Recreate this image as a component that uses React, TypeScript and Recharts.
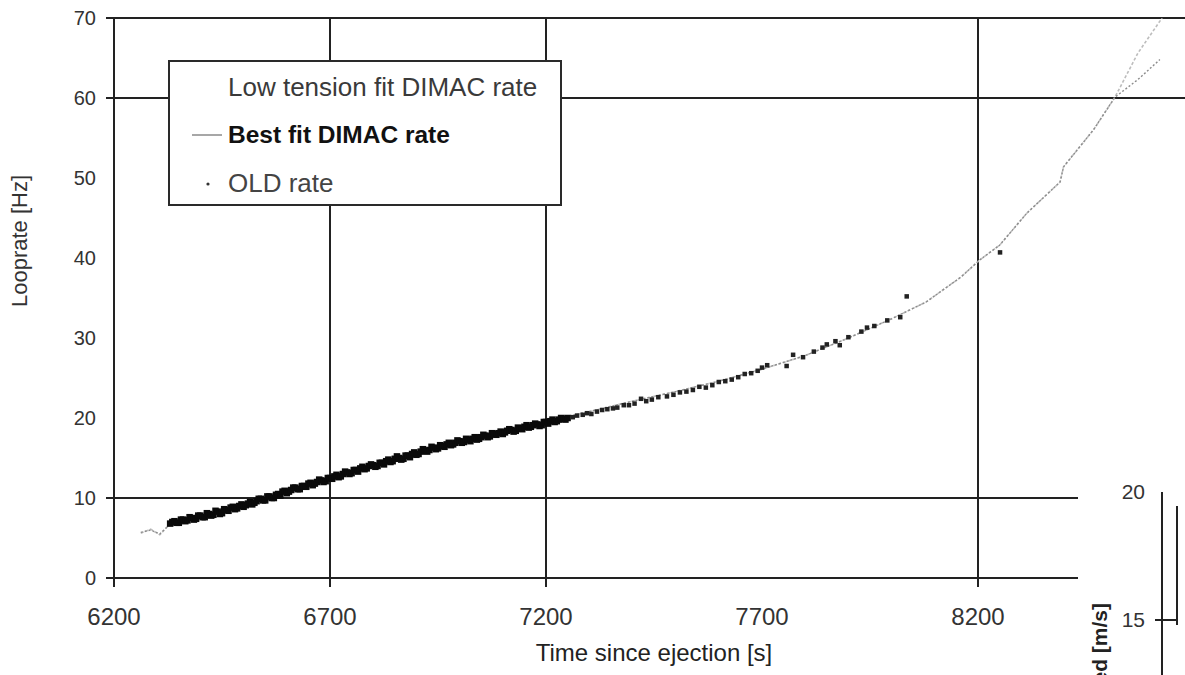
import React from 'react';
import {
  ComposedChart,
  LineChart,
  Line,
  Scatter,
  XAxis,
  YAxis,
  ReferenceLine,
  Legend,
  Label,
} from 'recharts';

const FONT = "'Liberation Sans', Arial, Helvetica, sans-serif";

// ---------- data ----------
const xTickValues = [6200, 6700, 7200, 7700, 8200];
const yTickValues = [0, 10, 20, 30, 40, 50, 60, 70];
const xTickMarks = [6200, 6700, 7200, 8200];
const yTickMarks = [0, 10, 60, 70];
const gridTimes = [6700, 7200, 8200];
const gridRates = [10, 60, 70];

const oldRateTimes = [
  6330, 6335, 6340, 6345, 6350, 6355, 6360, 6365, 6370, 6375, 6380, 6385, 6390, 6395, 6400, 6405,
  6410, 6415, 6420, 6425, 6430, 6435, 6440, 6445, 6450, 6455, 6460, 6465, 6470, 6475, 6480, 6485,
  6490, 6495, 6500, 6505, 6510, 6515, 6520, 6525, 6530, 6535, 6540, 6545, 6550, 6555, 6560, 6565,
  6570, 6575, 6580, 6585, 6590, 6595, 6600, 6605, 6610, 6615, 6620, 6625, 6630, 6635, 6640, 6645,
  6650, 6655, 6660, 6665, 6670, 6675, 6680, 6685, 6690, 6695, 6700, 6705, 6710, 6715, 6720, 6725,
  6730, 6735, 6740, 6745, 6750, 6755, 6760, 6765, 6770, 6775, 6780, 6785, 6790, 6795, 6800, 6805,
  6810, 6815, 6820, 6825, 6830, 6835, 6840, 6845, 6850, 6855, 6860, 6865, 6870, 6875, 6880, 6885,
  6890, 6895, 6900, 6905, 6910, 6915, 6920, 6925, 6930, 6935, 6940, 6945, 6950, 6955, 6960, 6965,
  6970, 6975, 6980, 6985, 6990, 6995, 7000, 7005, 7010, 7015, 7020, 7025, 7030, 7035, 7040, 7045,
  7050, 7055, 7060, 7065, 7070, 7075, 7080, 7085, 7090, 7095, 7100, 7105, 7110, 7115, 7120, 7125,
  7130, 7135, 7140, 7145, 7150, 7155, 7160, 7165, 7170, 7175, 7180, 7185, 7190, 7195, 7200, 7205,
  7210, 7215, 7220, 7225, 7230, 7235, 7240, 7245, 7250,
  7262, 7272, 7285, 7295, 7305, 7318, 7330, 7342, 7355, 7365, 7380, 7392, 7405, 7420, 7432, 7445,
  7460, 7480, 7495, 7510, 7525, 7540, 7555, 7570, 7585, 7600, 7615, 7630, 7645, 7660, 7675, 7690,
  7700, 7712, 7757, 7772, 7795, 7820, 7840, 7850, 7870, 7880, 7900, 7930, 7943, 7960, 7990, 8020,
  8035, 8251,
];
const oldRateHz = [
  6.8, 7.0, 7.1, 6.9, 6.9, 7.3, 7.3, 7.1, 7.2, 7.6, 7.5, 7.3, 7.4, 7.8, 7.8, 7.6,
  7.6, 8.1, 8.0, 7.8, 7.9, 8.4, 8.3, 8.0, 8.1, 8.6, 8.5, 8.4, 8.8, 8.9, 8.6, 8.7,
  9.0, 9.2, 8.9, 9.1, 9.3, 9.5, 9.2, 9.4, 9.6, 9.9, 9.9, 9.7, 9.7, 10.2, 10.2, 10.0,
  10.0, 10.4, 10.5, 10.3, 10.8, 10.9, 10.6, 10.8, 11.0, 11.3, 11.3, 11.1, 11.1, 11.5, 11.5, 11.4,
  11.8, 11.9, 11.6, 11.8, 12.0, 12.3, 12.2, 12.0, 12.1, 12.5, 12.5, 12.4, 12.7, 12.9, 12.6, 12.7,
  13.0, 13.3, 13.2, 13.0, 13.1, 13.5, 13.5, 13.3, 13.7, 13.9, 13.6, 13.7, 14.0, 14.2, 14.1, 13.9,
  14.0, 14.4, 14.4, 14.2, 14.6, 14.8, 14.5, 14.6, 14.9, 15.2, 15.0, 14.8, 14.9, 15.3, 15.3, 15.1,
  15.5, 15.7, 15.4, 15.5, 15.8, 16.1, 15.9, 15.8, 16.0, 16.4, 16.3, 16.1, 16.2, 16.6, 16.5, 16.4,
  16.7, 16.9, 16.6, 16.7, 16.9, 17.2, 17.1, 16.9, 17.0, 17.4, 17.3, 17.1, 17.4, 17.6, 17.3, 17.4,
  17.6, 17.9, 17.8, 17.6, 17.7, 18.1, 18.0, 17.9, 18.1, 18.3, 18.0, 18.2, 18.4, 18.6, 18.5, 18.3,
  18.4, 18.8, 18.7, 18.6, 18.9, 19.1, 18.8, 18.9, 19.1, 19.3, 19.2, 19.0, 19.1, 19.5, 19.5, 19.3,
  19.6, 19.8, 19.5, 19.6, 19.8, 20.0, 19.9, 19.8, 20.0,
  20.1, 20.3, 20.4, 20.6, 20.5, 20.8, 21.0, 21.1, 21.2, 21.3, 21.6, 21.6, 21.8, 22.4, 22.1, 22.3,
  22.6, 22.7, 22.9, 23.2, 23.3, 23.5, 23.9, 23.8, 24.1, 24.5, 24.6, 24.8, 25.1, 25.5, 25.6, 25.9,
  26.3, 26.6, 26.5, 27.9, 27.6, 28.3, 28.8, 29.2, 29.6, 29.1, 30.1, 30.8, 31.3, 31.5, 32.2, 32.6,
  35.2, 40.7,
];

const lowTensionTimes = [
  6262, 6285, 6306, 6327, 6400, 6500, 6600, 6700, 6800, 6900, 7000, 7100, 7200, 7300, 7400, 7500,
  7600, 7700, 7800, 7900, 8000, 8080, 8160, 8205, 8250, 8313, 8390, 8398, 8467, 8517, 8570, 8626,
];
const lowTensionHz = [
  5.6, 6.1, 5.4, 6.6, 7.7, 9.1, 10.7, 12.4, 14.0, 15.5, 17.0, 18.3, 19.6, 20.8, 22.1, 23.3,
  24.6, 26.1, 27.8, 30.0, 32.4, 34.5, 37.6, 39.8, 41.6, 45.6, 49.5, 51.4, 56.0, 60.1, 65.6, 70.0,
];
const bestFitTimes = [
  6262, 6285, 6306, 6327, 6400, 6500, 6600, 6700, 6800, 6900, 7000, 7100, 7200, 7300, 7400, 7500,
  7600, 7700, 7800, 7900, 8000, 8080, 8160, 8205, 8250, 8313, 8390, 8398, 8467, 8517, 8570, 8621,
];
const bestFitHz = [
  5.7, 6.0, 5.5, 6.6, 7.7, 9.1, 10.7, 12.4, 14.0, 15.5, 17.0, 18.3, 19.6, 20.8, 22.1, 23.3,
  24.6, 26.1, 27.8, 30.0, 32.4, 34.5, 37.6, 39.8, 41.6, 45.6, 49.5, 51.4, 56.0, 60.1, 62.3, 64.8,
];

// partially visible second chart (bottom right)
const speedTicks = [15, 20];
const speedTickMarks = [15];
const speedTimes = [0, 15, 15, 15];
const speedValues = [15, 15, 14.8, 19.45];

const legendOrder = ['Low tension fit DIMAC rate', 'Best fit DIMAC rate', 'OLD rate'];

// ---------- tables ----------
const zip = (xs: number[], ys: number[]) => xs.map((x, i) => ({ x, y: ys[i] }));
const oldRateData = zip(oldRateTimes, oldRateHz);
const lowTensionData = zip(lowTensionTimes, lowTensionHz);
const bestFitData = zip(bestFitTimes, bestFitHz);
const speedData = speedTimes.map((t, i) => ({ t, v: speedValues[i] }));

// ---------- renderers ----------
const XTick = (props: any) => {
  const { x, y, payload } = props;
  const v = payload.value;
  return (
    <g>
      {xTickMarks.includes(v) && (
        <line x1={x} x2={x} y1={y} y2={y + 9} stroke="#222" strokeWidth={2} />
      )}
      <text x={x} y={y + 47} textAnchor="middle" fontSize={24} fill="#333" fontFamily={FONT}>
        {v}
      </text>
    </g>
  );
};

const YTick = (props: any) => {
  const { x, y, payload } = props;
  const v = payload.value;
  return (
    <g>
      {yTickMarks.includes(v) && (
        <line x1={x - 8} x2={x} y1={y} y2={y} stroke="#222" strokeWidth={2} />
      )}
      <text x={x - 18} y={y + 7} textAnchor="end" fontSize={20} fill="#333" fontFamily={FONT}>
        {v}
      </text>
    </g>
  );
};

const SpeedTick = (props: any) => {
  const { x, y, payload } = props;
  const v = payload.value;
  return (
    <g>
      {speedTickMarks.includes(v) && (
        <line x1={x - 7} x2={x} y1={y} y2={y} stroke="#222" strokeWidth={2} />
      )}
      <text x={x - 17} y={y + 7} textAnchor="end" fontSize={21} fill="#333" fontFamily={FONT}>
        {v}
      </text>
    </g>
  );
};

const Dot = (props: any) => {
  const { cx, cy, payload } = props;
  if (cx == null || cy == null) return null;
  const dense = payload && payload.x <= 7250;
  const s = dense ? 6.5 : 4.5;
  return <rect x={cx - s / 2} y={cy - s / 2} width={s} height={s} fill={dense ? '#0a0a0a' : '#222'} />;
};

const LegendBox = (props: any) => {
  const payload: any[] = (props.payload || []).slice();
  payload.sort((a, b) => legendOrder.indexOf(a.value) - legendOrder.indexOf(b.value));
  return (
    <div
      style={{
        boxSizing: 'border-box',
        width: '100%',
        height: '100%',
        border: '2px solid #2a2a2a',
        background: '#fff',
        paddingTop: 1,
        fontFamily: FONT,
      }}
    >
      {payload.map((p) => {
        const isBest = p.value === 'Best fit DIMAC rate';
        const isOld = p.value === 'OLD rate';
        return (
          <div
            key={p.value}
            style={{ position: 'relative', height: 48, display: 'flex', alignItems: 'center' }}
          >
            <svg width={58} height={48} style={{ flex: 'none' }}>
              {isBest && <line x1={22} x2={52} y1={24} y2={24} stroke="#777" strokeWidth={1.3} />}
              {isOld && <circle cx={38} cy={25} r={1.6} fill="#333" />}
            </svg>
            <span
              style={{
                fontSize: isBest ? 24.5 : 26,
                fontWeight: isBest ? 700 : 400,
                color: isBest ? '#111' : isOld ? '#444' : '#3a3a3a',
                whiteSpace: 'nowrap',
              }}
            >
              {p.value}
            </span>
          </div>
        );
      })}
    </div>
  );
};

const YTitle = (props: any) => {
  const vb = props.viewBox || { x: 0, y: 0 };
  const x = vb.x + 27;
  const y = vb.y + 223;
  return (
    <text
      x={x}
      y={y}
      transform={`rotate(-90, ${x}, ${y})`}
      textAnchor="middle"
      fontSize={22}
      fill="#333"
      fontFamily={FONT}
    >
      Looprate [Hz]
    </text>
  );
};

const SpeedTitle = (props: any) => {
  const vb = props.viewBox || { x: 0, y: 0 };
  const x = vb.x + 29;
  const y = vb.y + 111;
  return (
    <text
      x={x}
      y={y}
      transform={`rotate(-90, ${x}, ${y})`}
      textAnchor="end"
      fontSize={21}
      fontWeight={700}
      fill="#222"
      fontFamily={FONT}
    >
      Speed [m/s]
    </text>
  );
};

export default function App() {
  return (
    <div
      style={{
        position: 'fixed',
        left: 0,
        top: 0,
        width: 1185,
        height: 675,
        overflow: 'hidden',
        background: '#fff',
        fontFamily: FONT,
      }}
    >
      <ComposedChart width={1200} height={675} margin={{ top: 18, right: 6, bottom: 0, left: 0 }}>
        <XAxis
          type="number"
          dataKey="x"
          domain={[6200, 8700]}
          ticks={xTickValues}
          interval={0}
          allowDataOverflow
          height={97}
          tickLine={false}
          tickSize={0}
          tickMargin={0}
          tick={<XTick />}
          axisLine={{ stroke: '#222', strokeWidth: 2 }}
        >
          <Label
            value="Time since ejection [s]"
            position="insideBottom"
            offset={14}
            style={{ fontSize: 24, fill: '#222', fontFamily: FONT }}
          />
        </XAxis>
        <YAxis
          type="number"
          dataKey="y"
          domain={[0, 70]}
          ticks={yTickValues}
          interval={0}
          allowDataOverflow
          width={114}
          tickLine={false}
          tickSize={0}
          tickMargin={0}
          tick={<YTick />}
          axisLine={{ stroke: '#222', strokeWidth: 2 }}
        >
          <Label content={<YTitle />} />
        </YAxis>
        {gridRates.map((r) => (
          <ReferenceLine key={'h' + r} y={r} stroke="#222" strokeWidth={2} />
        ))}
        {gridTimes.map((t) => (
          <ReferenceLine key={'v' + t} x={t} stroke="#222" strokeWidth={2} />
        ))}
        <Line
          data={lowTensionData}
          dataKey="y"
          name="Low tension fit DIMAC rate"
          type="linear"
          stroke="#bdbdbd"
          strokeWidth={1.6}
          strokeDasharray="3 2"
          dot={false}
          legendType="none"
          isAnimationActive={false}
        />
        <Line
          data={bestFitData}
          dataKey="y"
          name="Best fit DIMAC rate"
          type="linear"
          stroke="#8c8c8c"
          strokeWidth={1.4}
          strokeDasharray="2 2"
          dot={false}
          isAnimationActive={false}
        />
        <Scatter
          data={oldRateData}
          dataKey="y"
          name="OLD rate"
          fill="#111"
          shape={<Dot />}
          isAnimationActive={false}
        />
        <Legend
          content={<LegendBox />}
          layout="horizontal"
          verticalAlign="middle"
          align="center"
          wrapperStyle={{ left: 168, top: 60, width: 394, height: 146 }}
        />
      </ComposedChart>

      <div
        style={{
          position: 'absolute',
          left: 1078,
          top: 450,
          width: 107,
          height: 225,
          background: '#fff',
          overflow: 'hidden',
        }}
      >
        <LineChart width={107} height={426} data={speedData} margin={{ top: 42, right: 0, left: 0, bottom: 0 }}>
          <XAxis type="number" dataKey="t" domain={[0, 23]} hide />
          <YAxis
            type="number"
            domain={[5, 20]}
            ticks={speedTicks}
            interval={0}
            width={84}
            tickLine={false}
            tickSize={0}
            tickMargin={0}
            tick={<SpeedTick />}
            axisLine={{ stroke: '#222', strokeWidth: 2 }}
          >
            <Label content={<SpeedTitle />} />
          </YAxis>
          <Line dataKey="v" stroke="#222" strokeWidth={2} dot={false} isAnimationActive={false} />
        </LineChart>
      </div>
    </div>
  );
}
